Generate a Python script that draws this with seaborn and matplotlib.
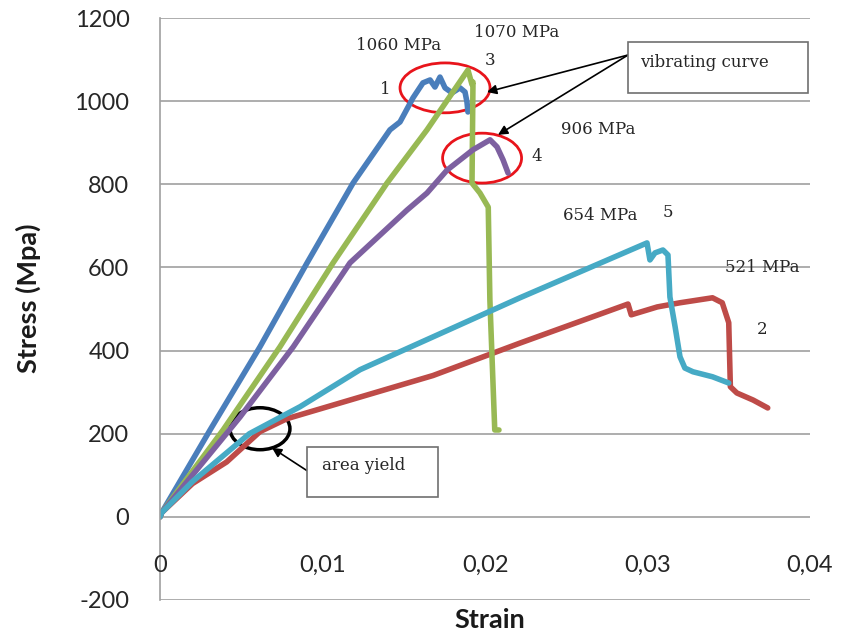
import matplotlib
matplotlib.use("Agg")
import matplotlib.pyplot as plt
from matplotlib.patches import Ellipse, Rectangle
import seaborn as sns
import pandas as pd

# strain / stress curves (strain, MPa)
strain_1 = [0, 0.0001, 0.00308, 0.00615, 0.00905, 0.01188, 0.01415, 0.01477, 0.01557, 0.01618,
            0.01662, 0.01692, 0.01723, 0.01754, 0.01797, 0.01846, 0.01877, 0.01889, 0.01895]
stress_1 = [0, 10, 209, 409, 611, 803, 931, 950, 1008, 1044,
            1051, 1034, 1058, 1032, 1020, 1032, 1022, 998, 974]

strain_2 = [0, 0.0001, 0.002, 0.0041, 0.00615, 0.0078, 0.0168, 0.02215, 0.0288, 0.029,
            0.0306, 0.032, 0.034, 0.0346, 0.035, 0.0351, 0.0355, 0.0365, 0.0374]
stress_2 = [0, 10, 80, 132, 205, 236, 340, 418, 512, 486,
            505, 515, 527, 515, 467, 313, 298, 281, 262]

strain_3 = [0, 0.0001, 0.00388, 0.00738, 0.01065, 0.01397, 0.01643, 0.01895, 0.0192, 0.01926,
            0.0192, 0.01969, 0.0202, 0.0203, 0.0206, 0.02086]
stress_3 = [0, 10, 209, 409, 611, 803, 931, 1075, 1040, 1046,
            803, 779, 745, 522, 209, 209]

strain_4 = [0, 0.0001, 0.00492, 0.0082, 0.01169, 0.0152, 0.01643, 0.01766, 0.01926, 0.02031,
            0.02074, 0.02111, 0.02142]
stress_4 = [0, 10, 240, 409, 611, 738, 779, 834, 883, 907,
            890, 859, 827]

strain_5 = [0, 0.0001, 0.002, 0.0041, 0.0055, 0.00862, 0.01231, 0.02215, 0.02997, 0.03015,
            0.03046, 0.03095, 0.03126, 0.03138, 0.0317, 0.032, 0.0323, 0.0328, 0.034, 0.035]
stress_5 = [0, 10, 85, 154, 200, 265, 354, 527, 659, 618,
            635, 642, 630, 529, 457, 385, 358, 349, 337, 322]

curve_ids = ["1", "2", "3", "4", "5"]
curve_colors = ["#4A7EBB", "#BE4B48", "#98B954", "#7D60A0", "#46AAC5"]

x_ticks = [0, 0.01, 0.02, 0.03, 0.04]
x_tick_labels = ["0", "0,01", "0,02", "0,03", "0,04"]
y_ticks = [-200, 0, 200, 400, 600, 800, 1000, 1200]

peak_labels = ["1060 MPa", "1070 MPa", "906 MPa", "654 MPa", "521 MPa"]
peak_label_pos = [(0.01465, 1135), (0.02197, 1164), (0.02695, 931), (0.02708, 724), (0.03705, 601)]
curve_label_pos = [(0.01385, 1027), (0.03705, 450), (0.02031, 1097), (0.0232, 866), (0.03126, 733)]

frames = []
for cid, xs, ys in zip(curve_ids,
                       [strain_1, strain_2, strain_3, strain_4, strain_5],
                       [stress_1, stress_2, stress_3, stress_4, stress_5]):
    frames.append(pd.DataFrame({"Strain": xs, "Stress": ys, "curve": cid}))
df = pd.concat(frames, ignore_index=True)

sns.set_style("white")
plt.rcParams["font.family"] = ["Lato", "DejaVu Sans"]

fig = plt.figure(figsize=(8.44, 6.37), dpi=100)
ax = fig.add_axes([0.1896, 0.0581, 0.7701, 0.9136])

sns.lineplot(data=df, x="Strain", y="Stress", hue="curve", units="curve",
             estimator=None, sort=False, palette=curve_colors, linewidth=4,
             legend=False, ax=ax)

tick_color = "#262626"
ax.set_xlim(0, 0.04)
ax.set_ylim(-200, 1200)
ax.set_yticks(y_ticks)
ax.set_yticklabels([str(v) for v in y_ticks], fontsize=17, color=tick_color)
ax.set_xticks([])
ax.tick_params(axis="y", length=0, pad=22)
ax.yaxis.grid(True, color="#A0A0A0", linewidth=1.2)
ax.set_axisbelow(True)
for side in ["top", "right", "bottom"]:
    ax.spines[side].set_visible(False)
ax.spines["left"].set_color("#A0A0A0")
ax.spines["left"].set_linewidth(1.2)
ax.set_xlabel("")
ax.set_ylabel("")

for xt, lab in zip(x_ticks, x_tick_labels):
    ax.text(xt, -116, lab, ha="center", va="center", fontsize=17, color=tick_color)

fig.text(0.5806, 0.0267, "Strain", ha="center", va="center", fontsize=19.5,
         fontweight="bold", color="#1a1a1a")
fig.text(0.033, 0.532, "Stress (Mpa)", ha="center", va="center", rotation=90,
         fontsize=19.5, fontweight="bold", color="#1a1a1a")

serif = ["DejaVu Serif"]
for lab, (x, y) in zip(peak_labels, peak_label_pos):
    ax.text(x, y, lab, ha="center", va="center", fontsize=12, family=serif)
for cid, (x, y) in zip(curve_ids, curve_label_pos):
    ax.text(x, y, cid, ha="center", va="center", fontsize=12, family=serif)

# highlight ellipses
ax.add_patch(Ellipse((0.01754, 1032), 0.00554, 120, fill=False, edgecolor="#E8141B", linewidth=2))
ax.add_patch(Ellipse((0.01982, 863), 0.00486, 120, fill=False, edgecolor="#E8141B", linewidth=2))
ax.add_patch(Ellipse((0.00615, 212), 0.00369, 101, fill=False, edgecolor="black", linewidth=2.5))

# callout boxes
ax.add_patch(Rectangle((0.0288, 1020), 0.0111, 122, fill=True, facecolor="white",
                       edgecolor="#707070", linewidth=1.2, zorder=5))
ax.text(0.02954, 1094, "vibrating curve", ha="left", va="center", fontsize=12,
        family=serif, zorder=6)
ax.add_patch(Rectangle((0.00905, 48), 0.00806, 120, fill=True, facecolor="white",
                       edgecolor="#707070", linewidth=1.2, zorder=5))
ax.text(0.00997, 123, "area yield", ha="left", va="center", fontsize=12,
        family=serif, zorder=6)

arrow = dict(arrowstyle="-|>", color="black", linewidth=1.2, mutation_scale=14,
             shrinkA=0, shrinkB=0)
ax.annotate("", xy=(0.02012, 1022), xytext=(0.0288, 1111), arrowprops=arrow)
ax.annotate("", xy=(0.0208, 919), xytext=(0.0288, 1111), arrowprops=arrow)
ax.annotate("", xy=(0.00689, 166), xytext=(0.00905, 111), arrowprops=arrow)

fig.savefig("out.png", dpi=100)
